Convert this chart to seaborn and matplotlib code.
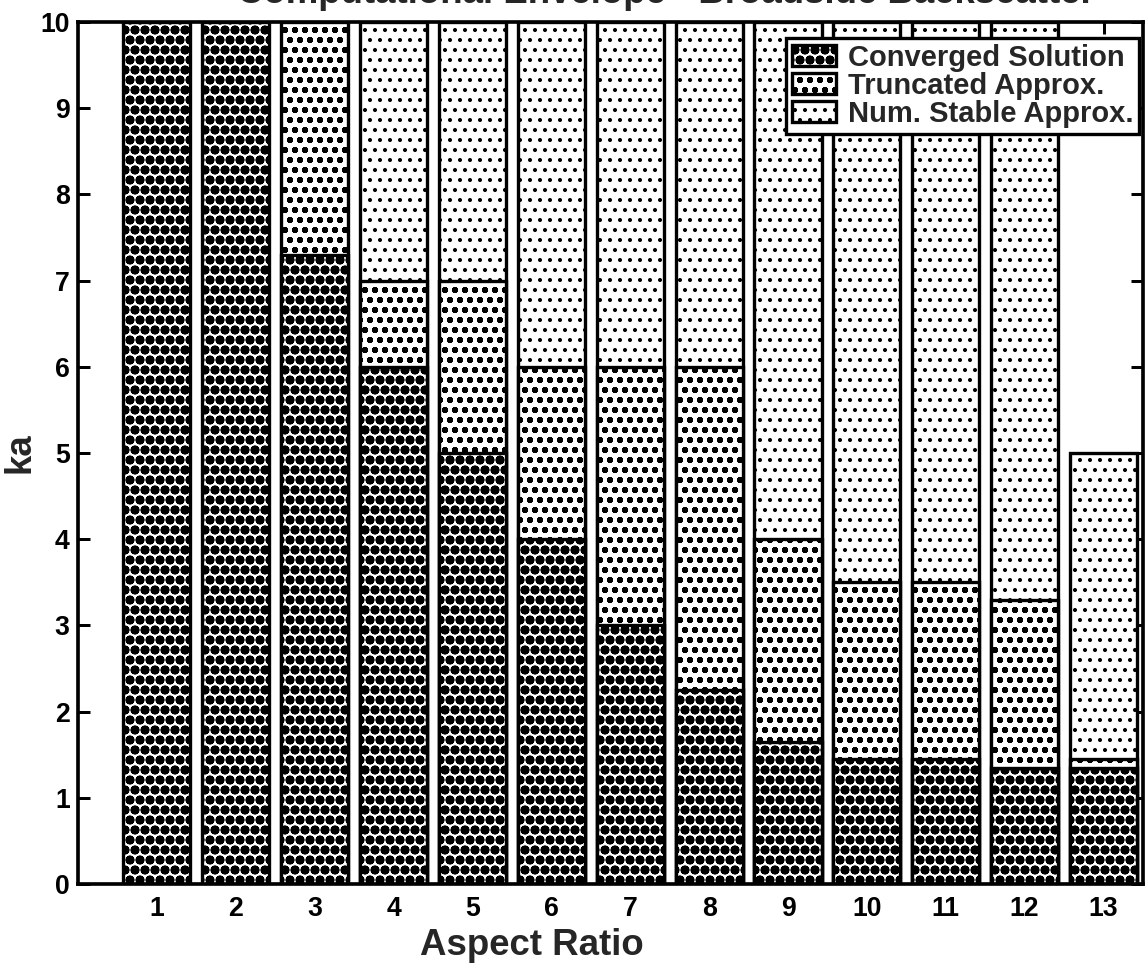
import numpy as np
import pandas as pd
import matplotlib
matplotlib.use("Agg")
import matplotlib.pyplot as plt
import seaborn as sns

# Upper boundary of each region (ka) for every aspect ratio
aspect_ratio = list(range(1, 14))
converged_top = [10, 10, 7.3, 6.0, 5.0, 4.0, 3.0, 2.25, 1.65, 1.45, 1.45, 1.35, 1.35]
truncated_top = [np.nan, np.nan, 10, 7.0, 7.0, 6.0, 6.0, 6.0, 4.0, 3.5, 3.5, 3.3, 1.45]
stable_top = [np.nan, np.nan, np.nan, 10, 10, 10, 10, 10, 10, 10, 10, 10, 5.0]
series_names = ["Converged Solution", "Truncated Approx.", "Num. Stable Approx."]
x_ticks = list(range(1, 14))
y_ticks = list(range(0, 11))

sns.set_theme(style="ticks")
plt.rcParams["font.family"] = ["Liberation Sans", "DejaVu Sans"]
plt.rcParams["font.weight"] = "bold"
plt.rcParams["axes.labelweight"] = "bold"
plt.rcParams["hatch.linewidth"] = 1.2
plt.rcParams["hatch.color"] = "black"

DPI = 120
W, H = 1146, 975
AX_L, AX_R, AX_T, AX_B = 78, 1143, 22, 884
fig = plt.figure(figsize=(W / DPI, H / DPI), dpi=DPI)
ax = fig.add_axes([AX_L / W, 1 - AX_B / H, (AX_R - AX_L) / W, (AX_B - AX_T) / H])

# Halftone-like dot screens: light, medium and dense
layers = [
    (stable_top, "..", series_names[2]),
    (truncated_top, "oo..", series_names[1]),
    (converged_top, "OOoo..", series_names[0]),
]
handles = {}
for tops, hatch, name in layers:
    df = pd.DataFrame({"aspect": aspect_ratio, "ka": tops}).dropna()
    n_before = len(ax.patches)
    sns.barplot(data=df, x="aspect", y="ka", native_scale=True, width=0.85,
                color="white", saturation=1, edgecolor="black", linewidth=2.0,
                hatch=hatch, errorbar=None, ax=ax)
    new = ax.patches[n_before:]
    for p in new:
        p.set_facecolor("white")
    handles[name] = new[0]

ax.set_xlim(0, 13.5)
ax.set_ylim(0, 10)
ax.set_xticks(x_ticks)
ax.set_xticklabels([str(v) for v in x_ticks])
ax.set_yticks(y_ticks)
ax.tick_params(direction="in", length=7, width=1.8, top=True, right=True,
               labelsize=16, pad=7, colors="black")
ax.tick_params(axis="y", pad=5)
for s in ax.spines.values():
    s.set_linewidth(2.2)
    s.set_color("black")
    s.set_visible(True)

ax_w, ax_h = AX_R - AX_L, AX_B - AX_T
ax.set_xlabel("Aspect Ratio", fontsize=22, fontweight="bold")
ax.xaxis.set_label_coords((532 - AX_L) / ax_w, -(928 - AX_B) / ax_h)
ax.set_ylabel("ka", fontsize=22, fontweight="bold")
ax.yaxis.set_label_coords(-(AX_L - 38) / ax_w, 0.5)

fig.text(1095 / W, 1 - 3 / H, "Computational Envelope - Broadside Backscatter",
         ha="right", va="baseline", fontsize=22, fontweight="bold")

leg = ax.legend(handles=[handles[n] for n in series_names], labels=series_names,
                loc="upper right", bbox_to_anchor=(1139 / W, 1 - 38 / H),
                bbox_transform=fig.transFigure, borderaxespad=0, fontsize=17.5,
                frameon=True, fancybox=False, edgecolor="black", framealpha=1,
                handlelength=1.5, handleheight=0.75, labelspacing=0.0,
                borderpad=0.2, handletextpad=0.4)
leg.get_frame().set_linewidth(2.0)

fig.savefig("out.png", dpi=DPI)
